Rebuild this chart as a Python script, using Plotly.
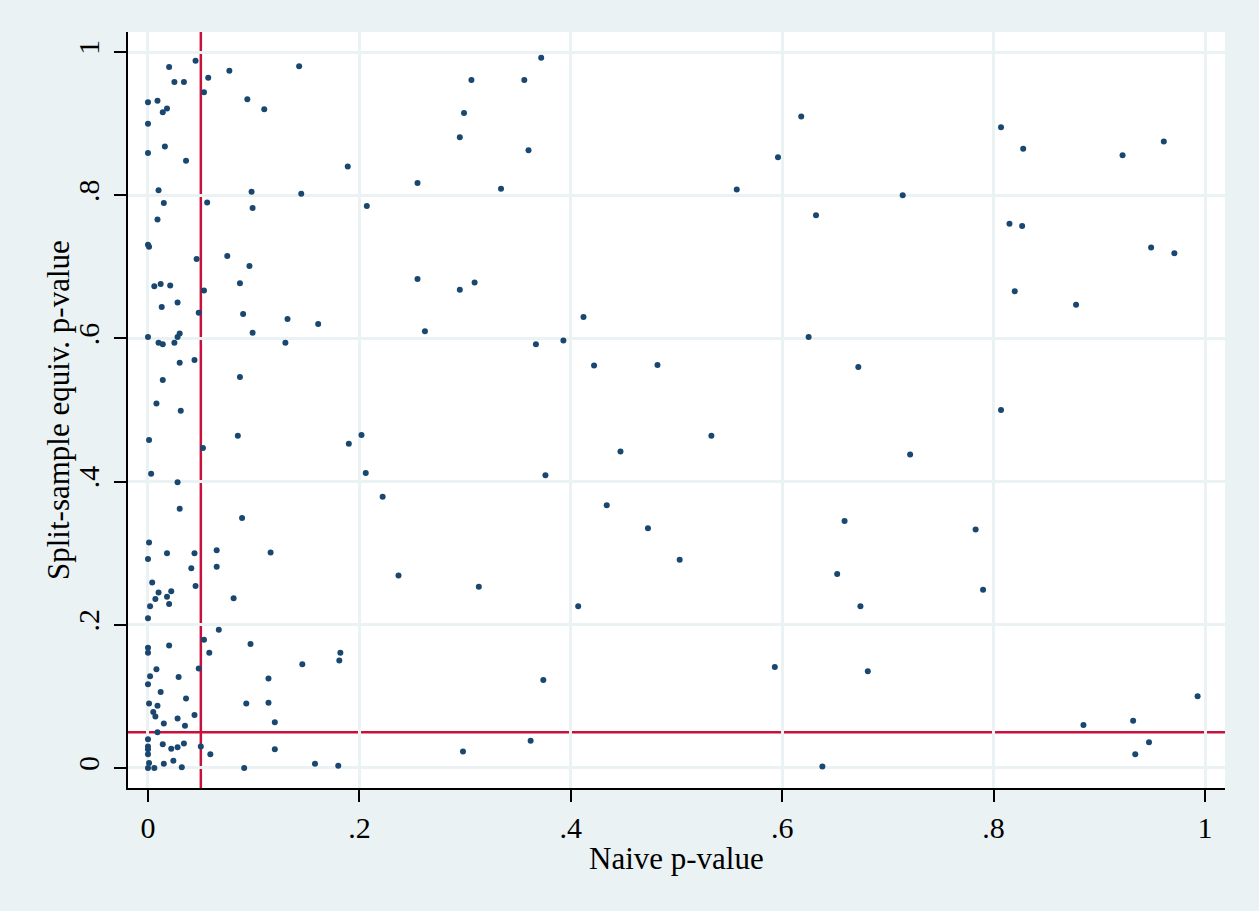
import plotly.graph_objects as go

# Naive p-value (x) and split-sample equivalent p-value (y)
naive_p = [
    0.020, 0.045, 0.057, 0.077, 0.143, 0.025, 0.034, 0.053, 0.000, 0.009,
    0.094, 0.110, 0.018, 0.014, 0.000, 0.000, 0.016, 0.036, 0.010, 0.098,
    0.145, 0.015, 0.056, 0.099, 0.009, 0.000, 0.001, 0.046, 0.075, 0.096,
    0.006, 0.012, 0.021, 0.087, 0.053, 0.013, 0.028, 0.048, 0.090, 0.132,
    0.161, 0.000, 0.010, 0.014, 0.025, 0.028, 0.030, 0.099, 0.130, 0.030,
    0.044, 0.014, 0.087, 0.008, 0.031, 0.001, 0.085, 0.052, 0.003, 0.028,
    0.030, 0.089, 0.001, 0.000, 0.018, 0.044, 0.065, 0.116, 0.041, 0.065,
    0.004, 0.010, 0.022, 0.045, 0.007, 0.018, 0.020, 0.081, 0.002, 0.000,
    0.067, 0.053, 0.097, 0.000, 0.000, 0.020, 0.058, 0.146, 0.048, 0.008,
    0.002, 0.029, 0.114, 0.000, 0.012, 0.036, 0.001, 0.009, 0.093, 0.114,
    0.005, 0.007, 0.044, 0.028, 0.015, 0.035, 0.120, 0.009, 0.000, 0.014,
    0.050, 0.000, 0.000, 0.000, 0.022, 0.028, 0.034, 0.120, 0.059, 0.001,
    0.000, 0.006, 0.015, 0.024, 0.032, 0.091, 0.158,
    0.372, 0.306, 0.356, 0.299, 0.295, 0.360, 0.189, 0.255, 0.334, 0.207,
    0.255, 0.309, 0.295, 0.262, 0.367, 0.393, 0.412, 0.422, 0.482, 0.190,
    0.202, 0.206, 0.376, 0.447, 0.533, 0.222, 0.434, 0.473, 0.503, 0.237,
    0.313, 0.407, 0.181, 0.182, 0.374, 0.362, 0.298, 0.180,
    0.618, 0.596, 0.557, 0.714, 0.632, 0.807, 0.828, 0.922, 0.961, 0.815,
    0.827, 0.949, 0.971, 0.820, 0.878, 0.625, 0.672, 0.807, 0.721, 0.659,
    0.783, 0.652, 0.790, 0.674, 0.593, 0.681, 0.993, 0.885, 0.932, 0.947,
    0.934, 0.638,
]
split_p = [
    0.979, 0.988, 0.964, 0.974, 0.980, 0.958, 0.958, 0.944, 0.930, 0.932,
    0.934, 0.920, 0.921, 0.916, 0.900, 0.859, 0.868, 0.848, 0.807, 0.805,
    0.802, 0.789, 0.790, 0.782, 0.766, 0.731, 0.728, 0.711, 0.715, 0.701,
    0.673, 0.676, 0.674, 0.677, 0.667, 0.644, 0.650, 0.636, 0.634, 0.627,
    0.620, 0.602, 0.594, 0.592, 0.594, 0.602, 0.607, 0.608, 0.594, 0.566,
    0.570, 0.542, 0.546, 0.509, 0.499, 0.458, 0.464, 0.447, 0.411, 0.399,
    0.362, 0.349, 0.315, 0.292, 0.300, 0.300, 0.304, 0.301, 0.279, 0.281,
    0.259, 0.245, 0.247, 0.254, 0.236, 0.239, 0.229, 0.237, 0.226, 0.209,
    0.193, 0.179, 0.173, 0.168, 0.161, 0.171, 0.161, 0.145, 0.139, 0.138,
    0.128, 0.127, 0.125, 0.117, 0.106, 0.097, 0.090, 0.087, 0.090, 0.091,
    0.078, 0.072, 0.074, 0.069, 0.062, 0.059, 0.064, 0.050, 0.040, 0.033,
    0.030, 0.030, 0.026, 0.019, 0.027, 0.029, 0.034, 0.026, 0.019, 0.007,
    0.000, 0.000, 0.006, 0.010, 0.001, 0.000, 0.006,
    0.992, 0.961, 0.961, 0.915, 0.881, 0.863, 0.840, 0.817, 0.809, 0.785,
    0.683, 0.678, 0.668, 0.610, 0.592, 0.597, 0.630, 0.562, 0.563, 0.453,
    0.465, 0.412, 0.409, 0.442, 0.464, 0.379, 0.367, 0.335, 0.291, 0.269,
    0.253, 0.226, 0.150, 0.161, 0.123, 0.038, 0.023, 0.003,
    0.910, 0.853, 0.808, 0.800, 0.772, 0.895, 0.865, 0.856, 0.875, 0.760,
    0.757, 0.727, 0.719, 0.666, 0.647, 0.602, 0.560, 0.500, 0.438, 0.345,
    0.333, 0.271, 0.249, 0.226, 0.141, 0.135, 0.100, 0.060, 0.066, 0.036,
    0.019, 0.002,
]

tick_vals = [0, 0.2, 0.4, 0.6, 0.8, 1]
tick_text = ["0", ".2", ".4", ".6", ".8", "1"]
threshold = 0.05
x_title = "Naive p-value"
y_title = "Split-sample equiv. p-value"

FONT = "Liberation Serif, Times New Roman, serif"
GRID = "#EAF2F3"
RED = "#C8103A"
NAVY = "#1A476F"

fig = go.Figure()
fig.add_trace(go.Scatter(
    x=naive_p, y=split_p, mode="markers",
    marker=dict(color=NAVY, size=6, line=dict(width=0)),
    hoverinfo="x+y", showlegend=False,
))

fig.add_shape(type="line", xref="x", yref="paper", x0=threshold, x1=threshold,
              y0=0, y1=1, line=dict(color=RED, width=2.5), layer="between")
fig.add_shape(type="line", xref="paper", yref="y", x0=0, x1=1,
              y0=threshold, y1=threshold, line=dict(color=RED, width=2.5), layer="between")

axis_common = dict(
    tickvals=tick_vals, ticktext=tick_text,
    showgrid=True, gridcolor=GRID, gridwidth=2.5,
    zeroline=False, showline=True, linecolor="black", linewidth=1.5,
    ticks="outside", ticklen=12, tickwidth=1.5, tickcolor="black",
    tickfont=dict(family=FONT, size=30, color="black"),
    mirror=False,
)

fig.update_xaxes(range=[-0.0189, 1.0189], ticklabelstandoff=0, **axis_common)
fig.update_yaxes(range=[-0.028, 1.028], tickangle=-90, ticklabelstandoff=3, **axis_common)

fig.add_annotation(text=y_title, xref="paper", yref="paper", x=0, y=0.5,
                   xanchor="center", yanchor="middle", xshift=-70, textangle=-90,
                   showarrow=False, font=dict(family=FONT, size=31, color="black"))
fig.add_annotation(text=x_title, xref="paper", yref="paper", x=0.5, y=0,
                   xanchor="center", yanchor="middle", yshift=-70,
                   showarrow=False, font=dict(family=FONT, size=31, color="black"))

fig.update_layout(
    width=1259, height=911,
    margin=dict(l=128, r=34, t=32, b=123, autoexpand=False),
    paper_bgcolor=GRID, plot_bgcolor="white",
    font=dict(family=FONT, color="black"),
)

fig.write_html("out.html", config={"displayModeBar": False},
               post_script="document.body.style.margin='0';document.body.style.background='#EAF2F3';")
